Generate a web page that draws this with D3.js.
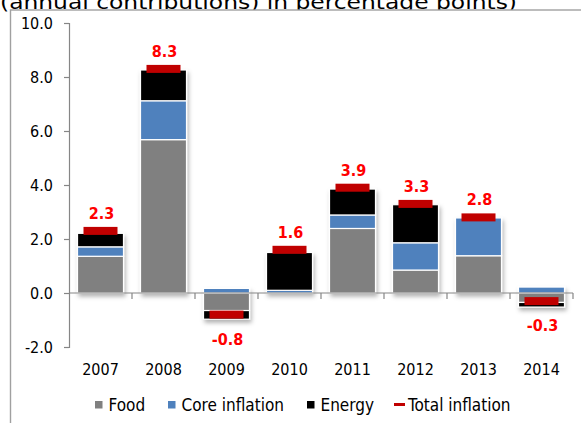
<!DOCTYPE html>
<meta charset="utf-8">
<style>
    body { margin: 0; background: #fff; }
    text { font-family: 'DejaVu Sans Condensed', 'DejaVu Sans', sans-serif; font-stretch: condensed; }
</style>
<svg width="581" height="423"></svg>
<script src="https://d3js.org/d3.v7.min.js"></script>
<script>

    var svg = d3.select("svg"),
        width = +svg.attr("width"),
        height = +svg.attr("height");

    // data
    const years = ["2007", "2008", "2009", "2010", "2011", "2012", "2013", "2014"];
    const food = [1.36, 5.68, -0.65, 0.0, 2.39, 0.85, 1.38, -0.35];
    const core = [0.35, 1.44, 0.17, 0.1, 0.5, 1.01, 1.4, 0.22];
    const energy = [0.5, 1.14, -0.32, 1.4, 0.96, 1.41, 0.0, -0.17];
    const total = [2.3, 8.3, -0.8, 1.6, 3.9, 3.3, 2.8, -0.3];
    const yTicks = [-2, 0, 2, 4, 6, 8, 10];

    const seriesNames = ["Food", "Core inflation", "Energy"];
    const colors = {"Food": "#808080", "Core inflation": "#4f81bd", "Energy": "#000000"};

    const rows = years.map(function (y, i) {
        return {year: y, "Food": food[i], "Core inflation": core[i], "Energy": energy[i], total: total[i]};
    });

    const fmt = function (d) { return d.toFixed(1); };

    // title, partly hidden behind the chart frame
    svg.append("text")
        .attr("x", 0).attr("y", 8.5)
        .attr("textLength", 517).attr("lengthAdjust", "spacingAndGlyphs")
        .style("font-size", "20px")
        .text("(annual contributions) in percentage points)");

    svg.append("rect")
        .attr("x", 10.5).attr("y", 10)
        .attr("width", 600).attr("height", 500)
        .style("fill", "#fff").style("stroke", "#a0a0a0").style("stroke-width", 1.4);

    const defs = svg.append("defs");
    defs.append("filter").attr("id", "shadow")
        .attr("x", "-20%").attr("y", "-20%").attr("width", "150%").attr("height", "150%")
        .append("feDropShadow")
        .attr("dx", 1.5).attr("dy", 3).attr("stdDeviation", 2)
        .attr("flood-color", "#000").attr("flood-opacity", 0.3);

    var y = d3.scaleLinear().domain([-2, 10]).range([347, 23]);
    var x = d3.scaleBand().domain(years).range([69, 573])
        .paddingInner(0.27).paddingOuter(0.135);

    // y axis
    var yAxis = svg.append("g")
        .attr("transform", "translate(69,0)")
        .call(d3.axisLeft(y).tickValues(yTicks).tickFormat(fmt).tickSize(5).tickPadding(11));
    yAxis.select(".domain").style("stroke", "#868686").style("stroke-width", 1.2);
    yAxis.selectAll(".tick line").style("stroke", "#868686").style("stroke-width", 1.2);
    yAxis.selectAll("text").style("font-size", "16px").style("fill", "#000").attr("dy", "0.36em");

    // stacked bars
    var stack = d3.stack().keys(seriesNames).offset(d3.stackOffsetDiverging);
    var stacked = stack(rows);

    var bars = svg.append("g").attr("filter", "url(#shadow)");
    bars.selectAll("g")
        .data(stacked)
        .enter().append("g")
        .style("fill", function (d) { return colors[d.key]; })
        .selectAll("rect")
        .data(function (d) { return d; })
        .enter().append("rect")
        .attr("x", function (d) { return x(d.data.year); })
        .attr("width", x.bandwidth())
        .attr("y", function (d) { return y(Math.max(d[0], d[1])); })
        .attr("height", function (d) { return Math.abs(y(d[0]) - y(d[1])); })
        .style("stroke", "#fff").style("stroke-width", 1.2);

    // x axis
    var xAxis = svg.append("g");
    xAxis.append("line")
        .attr("x1", 69).attr("x2", 573)
        .attr("y1", y(0)).attr("y2", y(0))
        .style("stroke", "#868686").style("stroke-width", 1.2);
    xAxis.selectAll(".xtick")
        .data(years)
        .enter().append("line")
        .attr("class", "xtick")
        .attr("x1", function (d) { return x(d) + x.bandwidth() + x.step() * x.paddingInner() / 2; })
        .attr("x2", function (d) { return x(d) + x.bandwidth() + x.step() * x.paddingInner() / 2; })
        .attr("y1", y(0)).attr("y2", y(0) + 6)
        .style("stroke", "#868686").style("stroke-width", 1.2);
    xAxis.selectAll(".xlab")
        .data(years)
        .enter().append("text")
        .attr("class", "xlab")
        .attr("x", function (d) { return x(d) + x.bandwidth() / 2; })
        .attr("y", 375)
        .attr("text-anchor", "middle")
        .style("font-size", "16px")
        .text(function (d) { return d; });

    // total inflation markers and labels
    var mk = svg.append("g");
    mk.selectAll("rect")
        .data(rows)
        .enter().append("rect")
        .attr("x", function (d) { return x(d.year) + x.bandwidth() / 2 - 17; })
        .attr("y", function (d) { return y(d.total) - 4; })
        .attr("width", 34).attr("height", 8)
        .style("fill", "#c00000");
    mk.selectAll("text")
        .data(rows)
        .enter().append("text")
        .attr("x", function (d) { return x(d.year) + x.bandwidth() / 2 + 1; })
        .attr("y", function (d) { return d.total >= 0 ? y(d.total) - 12 : y(d.total) + 30; })
        .attr("text-anchor", "middle")
        .style("font-size", "16px").style("font-weight", "bold").style("fill", "#ff0000")
        .text(function (d) { return fmt(d.total); });

    // legend
    const legendItems = seriesNames.concat(["Total inflation"]);
    const legendX = [95, 168, 307, 394];
    var legend = svg.append("g");
    legendItems.forEach(function (name, i) {
        var g = legend.append("g").attr("transform", "translate(" + legendX[i] + ",0)");
        if (name === "Total inflation") {
            g.append("rect").attr("x", 0).attr("y", 403).attr("width", 11).attr("height", 3)
                .style("fill", "#c00000");
        } else {
            g.append("rect").attr("x", 0).attr("y", 401).attr("width", 7.5).attr("height", 7.5)
                .style("fill", colors[name]);
        }
        g.append("text")
            .attr("x", name === "Total inflation" ? 14 : 13.5)
            .attr("y", 410.5)
            .style("font-size", "17px")
            .text(name);
    });

</script>
